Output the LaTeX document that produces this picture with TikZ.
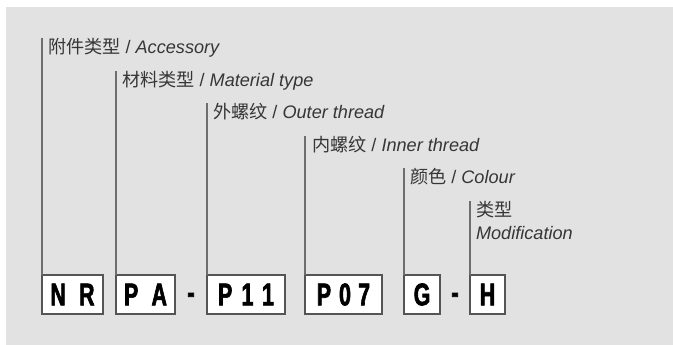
\documentclass[tikz,border=0pt]{standalone}
\usepackage{fontspec}
\setmainfont{Liberation Sans}
\newfontfamily\cjk{Noto Sans CJK SC}
\newfontfamily\codefont[FakeStretch=0.68,FakeBold=2]{Liberation Sans Bold}

\begin{document}
\begin{tikzpicture}[x=0.75pt, y=-0.75pt]
    \tikzstyle{every node} = [inner sep=0pt, outer sep=0pt]
    \tikzstyle{codebox} = [draw=boxline, line width=1.5pt, fill=white, minimum height=29.25pt, font=\codefont\fontsize{23.5}{23.5}\selectfont]
    \tikzstyle{hyph} = [font=\codefont\fontsize{23.5}{23.5}\selectfont]
    \tikzstyle{lbl} = [anchor=north west, align=left, text=txt, font=\fontsize{13.6}{17.5}\selectfont]
    \tikzstyle{lead} = [draw=leadline, line width=1.1pt]

    \definecolor{panel}{HTML}{E2E2E2}
    \definecolor{boxline}{HTML}{555555}
    \definecolor{leadline}{HTML}{6E6E6E}
    \definecolor{txt}{HTML}{363636}

    \useasboundingbox (0,0) rectangle (673,345);
    \fill[panel] (6,7) rectangle (673,345);

    % code boxes
    \foreach \name/\cx/\w/\code in {nr/72.5/61/N\kern10pt R, pa/145.5/59/P\kern10pt A,
                                     pxi/246/78/P\kern7pt 1\kern6.5pt 1, pvii/343.5/77/P\kern6pt 0\kern5.5pt 7,
                                     g/422/36/G, h/487.5/35/H} {
        \node[codebox, minimum width=\w*0.75pt] (\name) at (\cx,294.5) {\code};
    }
    \node[hyph] (d1) at (191,298) {-};
    \node[hyph] (d2) at (455,298) {-};

    % labels and leads
    \foreach \name/\lx/\top/\txt in {nr/48/38/{{\cjk 附件类型} / \textit{Accessory}},
                                      pa/122/71/{{\cjk 材料类型} / \textit{Material type}},
                                      pxi/213/103/{{\cjk 外螺纹} / \textit{Outer thread}},
                                      pvii/312/136/{{\cjk 内螺纹} / \textit{Inner thread}},
                                      g/410/168/{{\cjk 颜色} / \textit{Colour}},
                                      h/476/201/{{\cjk 类型}\\\textit{Modification}}} {
        \node[lbl] (l\name) at (\lx,\top) {\txt};
        \draw[lead] (\name.north west) -- (\name.north west |- l\name.north);
    }
\end{tikzpicture}
\end{document}
